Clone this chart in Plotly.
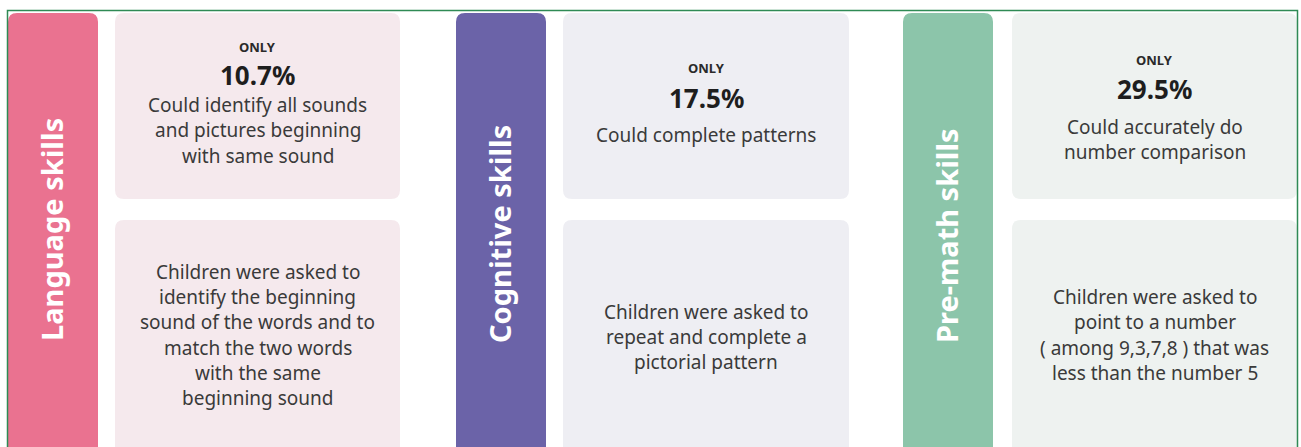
import plotly.graph_objects as go

# ---- data ----
skills = ["Language skills", "Cognitive skills", "Pre-math skills"]
shares = [10.7, 17.5, 29.5]
findings = [
    ["Could identify all sounds", "and pictures beginning", "with same sound"],
    ["Could complete patterns"],
    ["Could accurately do", "number comparison"],
]
tasks = [
    ["Children were asked to", "identify the beginning", "sound of the words and to",
     "match the two words", "with the same", "beginning sound"],
    ["Children were asked to", "repeat and complete a", "pictorial pattern"],
    ["Children were asked to", "point to a number", "( among 9,3,7,8 ) that was",
     "less than the number 5"],
]

# ---- styling / layout ----
W, H = 1301, 447
bar_colors = ["#EA7290", "#6B63A8", "#8CC5AA"]
box_colors = ["#F5E9ED", "#EEEEF3", "#EEF2F0"]
bar_x0 = [8, 456, 903]
bar_w = 90
box_x0 = [115, 563, 1012]
box_x1 = [400, 849, 1297]
top_y = (13, 199)
bot_y = (220, 480)
only_y = [47, 68, 60]
pct_y = [75, 98, 89]
find_y0 = [105, 135, 127]
task_center = [335, 337, 335]
label_y = [230, 234, 236]
line_h = 25.3
FONT = "Noto Sans"


def rrect(x0, y0, x1, y1, r):
    return (f"M {x0+r},{y0} L {x1-r},{y0} Q {x1},{y0} {x1},{y0+r} "
            f"L {x1},{y1-r} Q {x1},{y1} {x1-r},{y1} L {x0+r},{y1} "
            f"Q {x0},{y1} {x0},{y1-r} L {x0},{y0+r} Q {x0},{y0} {x0+r},{y0} Z")


fig = go.Figure()
fig.add_trace(go.Scatter(x=[0, W], y=[0, H], mode="markers",
                         marker=dict(opacity=0), hoverinfo="skip", showlegend=False))

shapes = []
annotations = []
for i, name in enumerate(skills):
    bx0 = bar_x0[i]
    shapes.append(dict(type="path", xref="x", yref="y",
                       path=rrect(bx0, 13, bx0 + bar_w, 480, 9),
                       fillcolor=bar_colors[i], line=dict(width=0), layer="below"))
    for (y0, y1) in (top_y, bot_y):
        shapes.append(dict(type="path", xref="x", yref="y",
                           path=rrect(box_x0[i], y0, box_x1[i], y1, 9),
                           fillcolor=box_colors[i], line=dict(width=0), layer="below"))
    cx = (box_x0[i] + box_x1[i]) / 2
    annotations.append(dict(x=bx0 + bar_w / 2 - 2, y=label_y[i], xref="x", yref="y",
                            text=f"<b>{name}</b>", textangle=-90, showarrow=False,
                            font=dict(family=FONT, size=29, color="white"),
                            xanchor="center", yanchor="middle"))
    annotations.append(dict(x=cx, y=only_y[i], xref="x", yref="y", text="<b>ONLY</b>",
                            showarrow=False, font=dict(family=FONT, size=13, color="#2A2A2A"),
                            xanchor="center", yanchor="middle"))
    annotations.append(dict(x=cx, y=pct_y[i], xref="x", yref="y",
                            text=f"<b>{shares[i]:.1f}%</b>", showarrow=False,
                            font=dict(family=FONT, size=26, color="#1E1E1E"),
                            xanchor="center", yanchor="middle"))
    for j, line in enumerate(findings[i]):
        annotations.append(dict(x=cx, y=find_y0[i] + j * line_h, xref="x", yref="y",
                                text=line, showarrow=False,
                                font=dict(family=FONT, size=19, color="#3A3A3A"),
                                xanchor="center", yanchor="middle"))
    n = len(tasks[i])
    start = task_center[i] - (n - 1) * line_h / 2
    for j, line in enumerate(tasks[i]):
        annotations.append(dict(x=cx, y=start + j * line_h, xref="x", yref="y",
                                text=line, showarrow=False,
                                font=dict(family=FONT, size=19, color="#3A3A3A"),
                                xanchor="center", yanchor="middle"))

# outer green frame
shapes.append(dict(type="rect", xref="x", yref="y", x0=7.5, y0=10.5, x1=1297.5, y1=500,
                   line=dict(color="#2F8A55", width=1.5), fillcolor="rgba(0,0,0,0)",
                   layer="above"))

fig.update_layout(
    width=W, height=H, margin=dict(l=0, r=0, t=0, b=0),
    paper_bgcolor="white", plot_bgcolor="white",
    xaxis=dict(range=[0, W], visible=False, fixedrange=True),
    yaxis=dict(range=[H, 0], visible=False, fixedrange=True),
    shapes=shapes, annotations=annotations, showlegend=False,
)

fig.write_html("out.html", config={"displayModeBar": False},
               post_script="document.body.style.margin='0';document.body.style.overflow='hidden';")
